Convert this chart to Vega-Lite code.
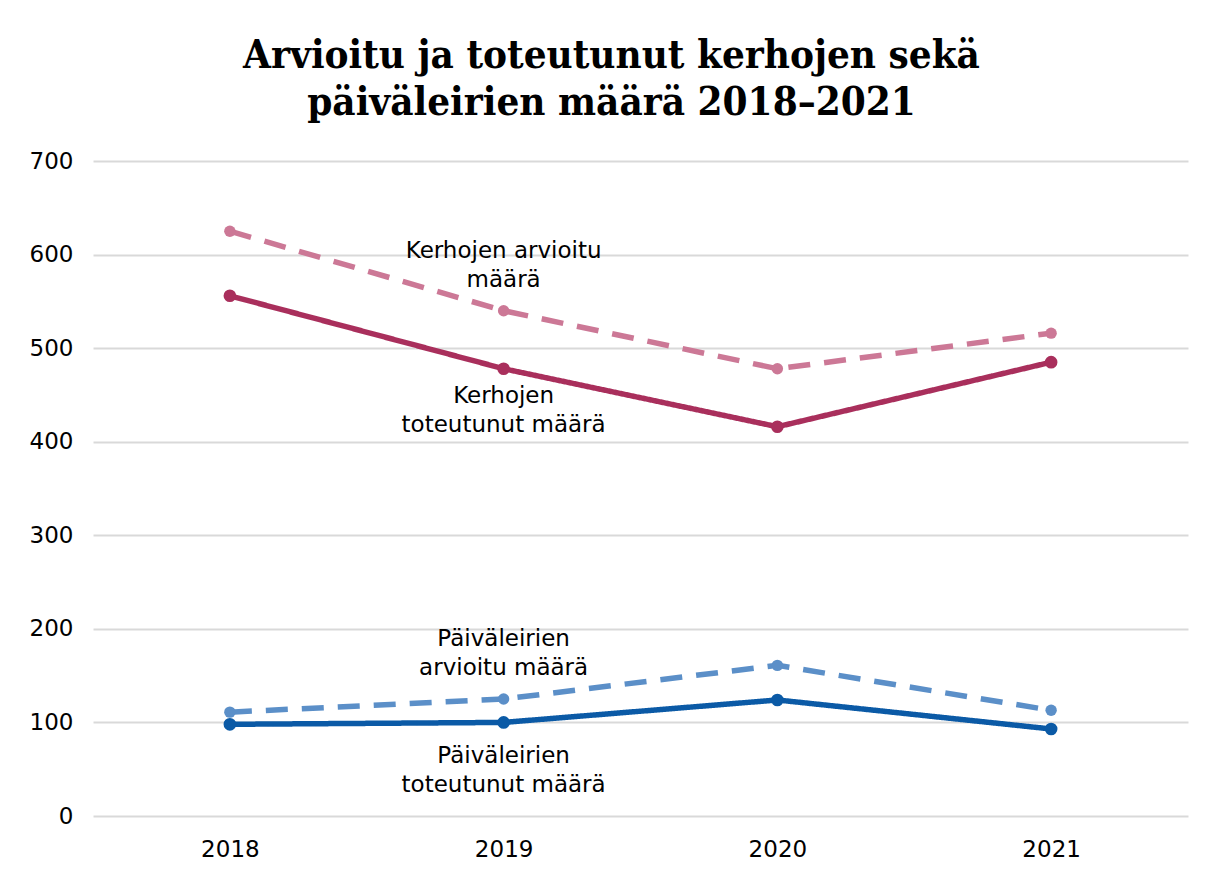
{
  "$schema": "https://vega.github.io/schema/vega-lite/v6.json",
  "width": 1095,
  "height": 655,
  "autosize": {"type": "none"},
  "padding": {"left": 93, "top": 161, "right": 18, "bottom": 53},
  "background": "white",
  "config": {
    "view": {"stroke": null},
    "font": "DejaVu Sans"
  },
  "title": {
    "text": ["Arvioitu ja toteutunut kerhojen sekä", "päiväleirien määrä 2018–2021"],
    "font": "DejaVu Serif Condensed",
    "fontWeight": "bold",
    "fontSize": 40,
    "lineHeight": 47,
    "color": "#000000",
    "anchor": "middle",
    "dx": -29,
    "offset": 27
  },
  "datasets": {
    "series": [
      {"year": "2018", "series": "Kerhojen toteutunut määrä", "type": "toteutunut", "value": 556},
      {"year": "2019", "series": "Kerhojen toteutunut määrä", "type": "toteutunut", "value": 478},
      {"year": "2020", "series": "Kerhojen toteutunut määrä", "type": "toteutunut", "value": 416},
      {"year": "2021", "series": "Kerhojen toteutunut määrä", "type": "toteutunut", "value": 485},
      {"year": "2018", "series": "Kerhojen arvioitu määrä", "type": "arvioitu", "value": 625},
      {"year": "2019", "series": "Kerhojen arvioitu määrä", "type": "arvioitu", "value": 540},
      {"year": "2020", "series": "Kerhojen arvioitu määrä", "type": "arvioitu", "value": 478},
      {"year": "2021", "series": "Kerhojen arvioitu määrä", "type": "arvioitu", "value": 516},
      {"year": "2018", "series": "Päiväleirien arvioitu määrä", "type": "arvioitu", "value": 111},
      {"year": "2019", "series": "Päiväleirien arvioitu määrä", "type": "arvioitu", "value": 125},
      {"year": "2020", "series": "Päiväleirien arvioitu määrä", "type": "arvioitu", "value": 161},
      {"year": "2021", "series": "Päiväleirien arvioitu määrä", "type": "arvioitu", "value": 113},
      {"year": "2018", "series": "Päiväleirien toteutunut määrä", "type": "toteutunut", "value": 98},
      {"year": "2019", "series": "Päiväleirien toteutunut määrä", "type": "toteutunut", "value": 100},
      {"year": "2020", "series": "Päiväleirien toteutunut määrä", "type": "toteutunut", "value": 124},
      {"year": "2021", "series": "Päiväleirien toteutunut määrä", "type": "toteutunut", "value": 93}
    ],
    "labels": [
      {"year": "2019", "value": 604, "label": "Kerhojen arvioitu\nmäärä"},
      {"year": "2019", "value": 449, "label": "Kerhojen\ntoteutunut määrä"},
      {"year": "2019", "value": 189, "label": "Päiväleirien\narvioitu määrä"},
      {"year": "2019", "value": 64, "label": "Päiväleirien\ntoteutunut määrä"}
    ]
  },
  "encoding": {
    "x": {
      "field": "year", "type": "ordinal",
      "scale": {"type": "point", "padding": 0.5},
      "axis": {
        "title": null, "labelAngle": 0, "domain": false, "ticks": false,
        "labelFontSize": 23, "labelColor": "#000000", "labelPadding": 22, "grid": false
      }
    },
    "y": {
      "field": "value", "type": "quantitative",
      "scale": {"domain": [0, 700], "nice": false},
      "axis": {
        "title": null, "values": [0, 100, 200, 300, 400, 500, 600, 700],
        "domain": false, "ticks": false, "labelFontSize": 23, "labelColor": "#000000",
        "labelPadding": 20, "gridColor": "#d9d9d9", "gridWidth": 2
      }
    }
  },
  "layer": [
    {
      "data": {"name": "series"},
      "mark": {"type": "line", "strokeWidth": 5.5},
      "encoding": {
        "color": {
          "field": "series", "type": "nominal", "legend": null,
          "scale": {
            "domain": ["Kerhojen toteutunut määrä", "Kerhojen arvioitu määrä", "Päiväleirien arvioitu määrä", "Päiväleirien toteutunut määrä"],
            "range": ["#a92f5c", "#cc7896", "#5b8fc8", "#0b5aa6"]
          }
        },
        "strokeDash": {
          "field": "type", "type": "nominal", "legend": null,
          "scale": {"domain": ["toteutunut", "arvioitu"], "range": [[1, 0], [22, 14]]}
        }
      }
    },
    {
      "data": {"name": "series"},
      "mark": {"type": "point", "filled": true, "opacity": 1},
      "encoding": {
        "color": {"field": "series", "type": "nominal", "legend": null},
        "size": {
          "field": "type", "type": "nominal", "legend": null,
          "scale": {"domain": ["toteutunut", "arvioitu"], "range": [160, 130]}
        }
      }
    },
    {
      "data": {"name": "labels"},
      "mark": {"type": "text", "fontSize": 23, "lineBreak": "\n", "lineHeight": 29, "color": "#000000", "align": "center", "baseline": "middle"},
      "encoding": {
        "text": {"field": "label"}
      }
    }
  ]
}
